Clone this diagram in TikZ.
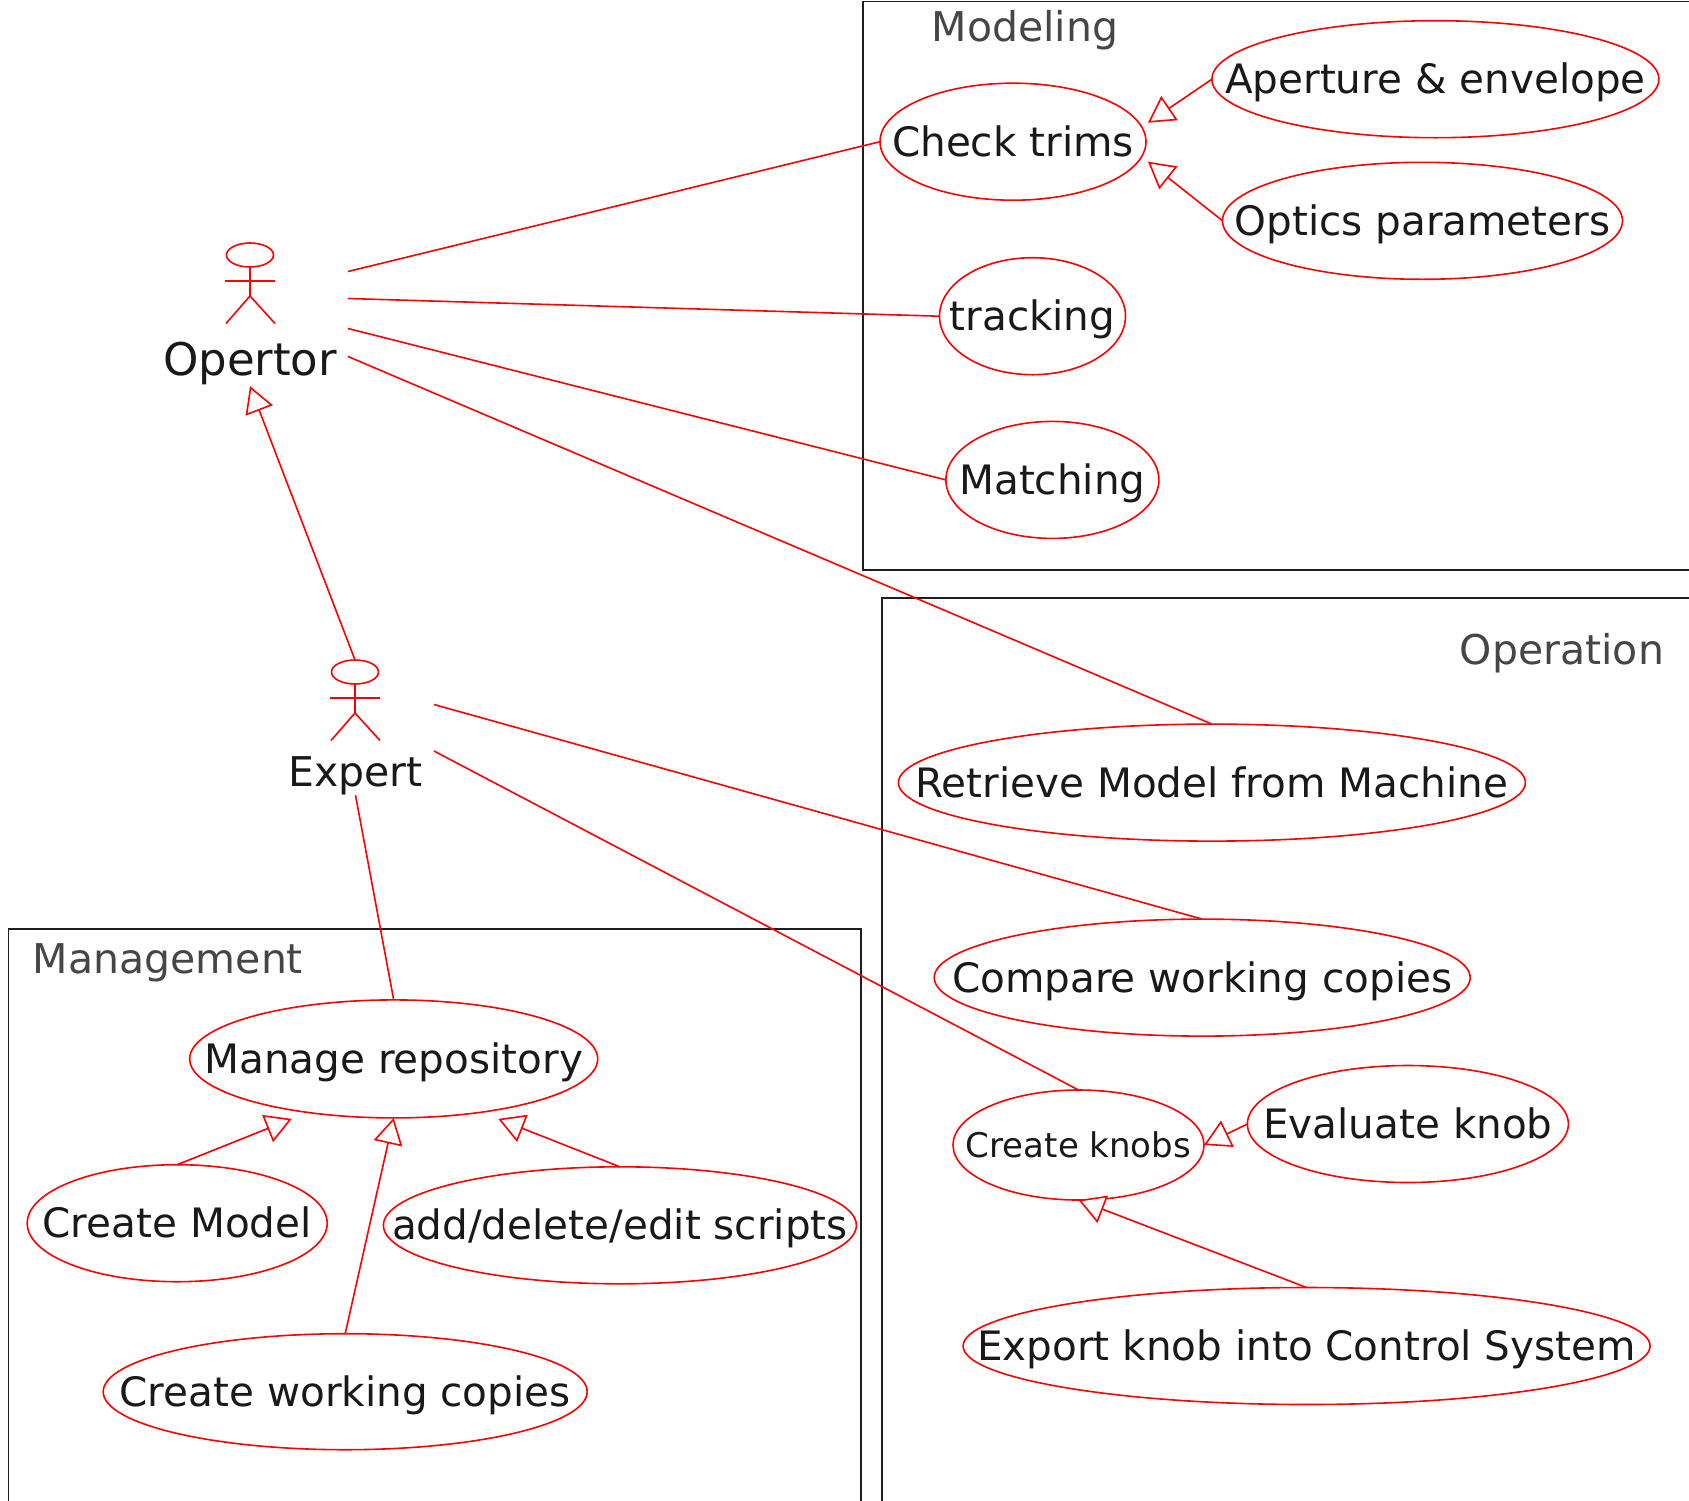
\documentclass[tikz,border=0pt]{standalone}
\usepackage{fontspec}
\setmainfont{DejaVu Sans}
\usetikzlibrary{shapes.geometric,arrows.meta}
\definecolor{boxgray}{RGB}{30,30,30}
\definecolor{titlegray}{RGB}{70,70,70}
\newcommand{\uclabel}[1]{\makebox[0pt]{\raisebox{-0.36em}[0pt][0pt]{#1}}}
\tikzset{usecase/.style = {draw=red, ellipse, inner sep=0pt, outer sep=0pt, line width=1.6pt, font=\fontsize{40.5}{46}\selectfont, text=black!90}}
\tikzset{package/.style = {draw=boxgray, line width=1.5pt}}
\tikzset{title/.style = {text=titlegray, font=\fontsize{41}{46}\selectfont}}
\tikzset{link/.style = {draw=red, line width=1.6pt}}
\tikzset{extends/.style = {link, -{Triangle[open, length=26pt, width=29pt, fill=white]}}}
\tikzset{actorname/.style = {font=\fontsize{41}{46}\selectfont, text=black!90, inner sep=0pt}}
\tikzset{actor/.pic = {
  \draw [link] (0,-17) ellipse [x radius=23.5, y radius=12];
  \draw [link] (0,-5) -- (0,24) (-25,9) -- (25,9) (-24,51.5) -- (0,24) -- (25,51.5);
  \coordinate (-top) at (0,-29);}}

\begin{document}
\begin{tikzpicture}[x=1pt, y=-1pt]
  \useasboundingbox (0,0) rectangle (1689,1500);
  % packages
  \draw [package] (2000,1.5) -| (863,570) -- (2000,570);
  \draw [package] (2000,598) -| (882,2000);
  \draw [package] (8.6,1600) |- (861,929) -- (861,1600);
  \node [title] (modeling) at (1025,30) {Modeling};
  \node [title] (operation) at (1562,653) {Operation};
  \node [title] (management) at (168,963) {Management};
  % actors
  \pic (opertorfig) at (250,272) {actor};
  \node [actorname, minimum height=54pt, font=\fontsize{45}{50}\selectfont] (opertor) at (250,359) {\uclabel{Opertor}};
  \pic (expertfig) at (355,689) {actor};
  \node [actorname, minimum height=46pt] (expert) at (355.5,772) {\uclabel{Expert}};
  \coordinate (opertorport1) at (348,271.5);
  \coordinate (opertorport2) at (348,298.5);
  \coordinate (opertorport3) at (348,328.5);
  \coordinate (opertorport4) at (348,356.5);
  \coordinate (expertport1) at (434,704.5);
  \coordinate (expertport2) at (434,751);
  % modeling
  \node [usecase, minimum width=266pt, minimum height=117pt] (checktrims) at (1013,141.7) {\uclabel{Check trims}};
  \node [usecase, minimum width=447pt, minimum height=117pt] (aperture) at (1435.4,79.2) {\uclabel{Aperture \& envelope}};
  \node [usecase, minimum width=400pt, minimum height=117pt] (optics) at (1422.5,220.8) {\uclabel{Optics parameters}};
  \node [usecase, minimum width=186pt, minimum height=117pt] (tracking) at (1032.5,316.2) {\uclabel{tracking}};
  \node [usecase, minimum width=213pt, minimum height=117pt] (matching) at (1052.4,479.9) {\uclabel{Matching}};
  % operation
  \node [usecase, minimum width=627pt, minimum height=117pt] (retrieve) at (1211.9,782.6) {\uclabel{Retrieve Model from Machine}};
  \node [usecase, minimum width=536pt, minimum height=117pt] (compare) at (1202.2,977.6) {\uclabel{Compare working copies}};
  \node [usecase, minimum width=251pt, minimum height=110pt, font=\fontsize{34}{40}\selectfont] (knobs) at (1078.5,1145) {\uclabel{Create knobs}};
  \node [usecase, minimum width=321pt, minimum height=117pt] (evaluate) at (1407.9,1124) {\uclabel{Evaluate knob}};
  \node [usecase, minimum width=687pt, minimum height=117pt] (export) at (1306.6,1346) {\uclabel{Export knob into Control System}};
  % management
  \node [usecase, minimum width=408pt, minimum height=118pt] (manage) at (393.7,1058.9) {\uclabel{Manage repository}};
  \node [usecase, minimum width=300pt, minimum height=117pt] (model) at (177.2,1223.2) {\uclabel{Create Model}};
  \node [usecase, minimum width=473pt, minimum height=117pt] (scripts) at (619.9,1225.3) {\uclabel{add/delete/edit scripts}};
  \node [usecase, minimum width=484pt, minimum height=116pt] (copies) at (345.2,1391.7) {\uclabel{Create working copies}};
  % connectors
  \draw [link] (opertorport1) -- (checktrims.west);
  \draw [link] (opertorport2) -- (tracking.west);
  \draw [link] (opertorport3) -- (matching.west);
  \draw [link] (opertorport4) -- (retrieve.north);
  \draw [link] (expertport1) -- (compare.north);
  \draw [link] (expertport2) -- (knobs.north);
  \draw [link] (expert.south) -- (manage.north);
  \draw [extends] (expertfig-top) -- (opertor.south);
  \draw [extends] (aperture.west) -- ([shift={(2,-19)}]checktrims.east);
  \draw [extends] (optics.west) -- ([shift={(2,20)}]checktrims.east);
  \draw [extends] (evaluate.west) -- (knobs.east);
  \draw [extends] (export.north) -- (knobs.south);
  \draw [extends] (model.north) -- ([shift={(-102,1)}]manage.south);
  \draw [extends] (scripts.north) -- ([shift={(104.6,1)}]manage.south);
  \draw [extends] (copies.north) -- (manage.south);
\end{tikzpicture}
\end{document}
